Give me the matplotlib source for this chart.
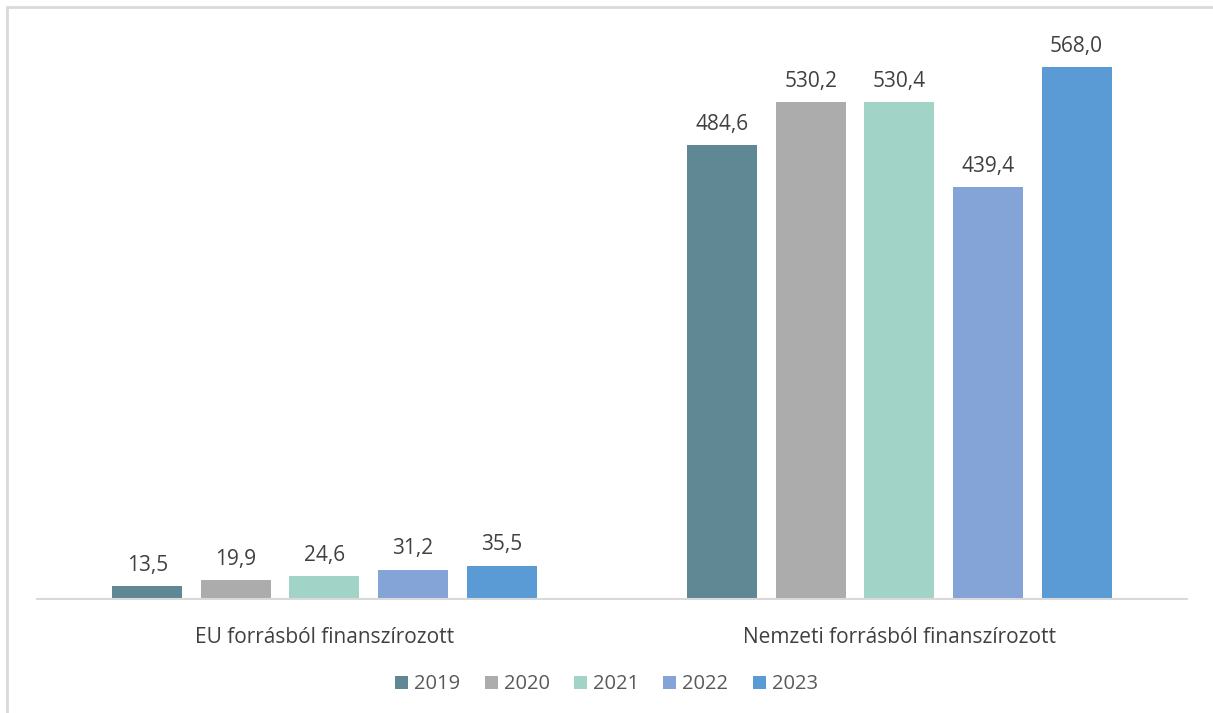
import matplotlib.pyplot as plt
from matplotlib.patches import Rectangle
import numpy as np

plt.rcParams['font.family'] = ['Open Sans', 'DejaVu Sans']

# adatok
categories = ['EU forrásból finanszírozott', 'Nemzeti forrásból finanszírozott']
years = ['2019', '2020', '2021', '2022', '2023']
values = {
    '2019': [13.5, 484.6],
    '2020': [19.9, 530.2],
    '2021': [24.6, 530.4],
    '2022': [31.2, 439.4],
    '2023': [35.5, 568.0],
}
colors = ['#5F8794', '#ABACAB', '#A1D3C7', '#84A3D6', '#5B9BD5']

fig = plt.figure(figsize=(12.13, 7.13), dpi=100)
ax = fig.add_axes([0.0305, 0.1599, 0.948, 0.7881])

x = np.arange(len(categories))
width = 0.1217
step = 0.154
for i, y in enumerate(years):
    pos = x + (i - 2) * step
    bars = ax.bar(pos, values[y], width, color=colors[i], label=y)
    for b, v in zip(bars, values[y]):
        ax.text(b.get_x() + b.get_width() / 2, v + 11,
                f'{v:.1f}'.replace('.', ','), ha='center', va='bottom',
                fontsize=15, color='#404040')

ax.set_xlim(-0.5, 1.5)
ax.set_ylim(0, 600)
ax.set_yticks([])
ax.set_xticks(x)
ax.set_xticklabels(categories, fontsize=15, color='#404040')
ax.tick_params(axis='x', length=0, pad=20)
for s in ['top', 'right', 'left']:
    ax.spines[s].set_visible(False)
ax.spines['bottom'].set_color('#D9D9D9')
ax.spines['bottom'].set_linewidth(1.5)

fig.legend(loc='center', bbox_to_anchor=(0.5, 0.04), ncol=5, frameon=False,
           fontsize=14.5, handlelength=0.65, handleheight=0.65, columnspacing=1.2,
           handletextpad=0.3, labelcolor='#595959')

# keret
fig.patches.append(Rectangle((7 / 1213, -0.1), 1.2, 1.1 - 7 / 713,
                             transform=fig.transFigure, fill=False,
                             edgecolor='#D9D9D9', linewidth=2))

fig.savefig('out.png', dpi=100)
